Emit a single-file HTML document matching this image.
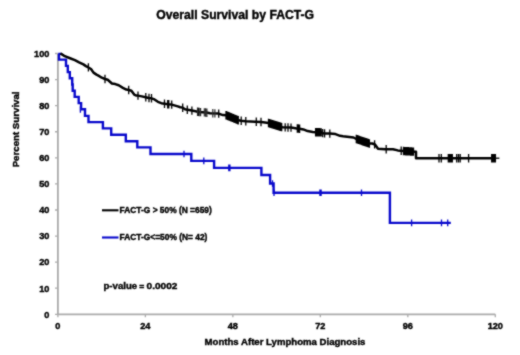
<!DOCTYPE html>
<html><head><meta charset="utf-8"><style>
html,body{margin:0;padding:0;background:#fff;width:520px;height:355px;overflow:hidden}
svg{display:block;will-change:transform}
text{font-family:"Liberation Sans",sans-serif;font-weight:bold;fill:#000;stroke:#000;stroke-width:0.4px}
</style></head><body>
<svg width="520" height="355" viewBox="0 0 520 355">
<defs><filter id="b" color-interpolation-filters="sRGB" filterUnits="userSpaceOnUse" x="0" y="0" width="520" height="355"><feConvolveMatrix order="3" kernelMatrix="1 2 1 2 12 2 1 2 1" divisor="24" edgeMode="duplicate"/></filter></defs>
<g filter="url(#b)">
<rect width="520" height="355" fill="#fff"/>
<text x="235.2" y="19.4" text-anchor="middle" font-size="12.2">Overall Survival by FACT-G</text>
<text transform="translate(19,129.4) rotate(-90)" text-anchor="middle" font-size="9.7">Percent Survival</text>
<text x="285" y="345" text-anchor="middle" font-size="9.6">Months After Lymphoma Diagnosis</text>
<g font-size="9.2"><text x="49.4" y="317.60" text-anchor="end">0</text><text x="49.4" y="291.52" text-anchor="end">10</text><text x="49.4" y="265.44" text-anchor="end">20</text><text x="49.4" y="239.36" text-anchor="end">30</text><text x="49.4" y="213.28" text-anchor="end">40</text><text x="49.4" y="187.20" text-anchor="end">50</text><text x="49.4" y="161.12" text-anchor="end">60</text><text x="49.4" y="135.04" text-anchor="end">70</text><text x="49.4" y="108.96" text-anchor="end">80</text><text x="49.4" y="82.88" text-anchor="end">90</text><text x="49.4" y="56.80" text-anchor="end">100</text><text x="57.90" y="329.2" text-anchor="middle">0</text><text x="145.38" y="329.2" text-anchor="middle">24</text><text x="232.86" y="329.2" text-anchor="middle">48</text><text x="320.34" y="329.2" text-anchor="middle">72</text><text x="407.82" y="329.2" text-anchor="middle">96</text><text x="495.30" y="329.2" text-anchor="middle">120</text></g>
<path d="M57.9,53.5V314.3H495.3" fill="none" stroke="#aaa" stroke-width="1.8"/>
<path d="M55,314.30H57.9M55,288.22H57.9M55,262.14H57.9M55,236.06H57.9M55,209.98H57.9M55,183.90H57.9M55,157.82H57.9M55,131.74H57.9M55,105.66H57.9M55,79.58H57.9M55,53.50H57.9M57.90,314.3V317.2M145.38,314.3V317.2M232.86,314.3V317.2M320.34,314.3V317.2M407.82,314.3V317.2M495.30,314.3V317.2" fill="none" stroke="#aaa" stroke-width="1.3"/>
<path d="M58.2,53.9 H61.6 M59,53.9 V59.6 H66 V65.9 H67.8 V72.1 H69.8 V78.3 H72.2 V84.5 H72.7 V90.7 H74.7 V96.9 H78.7 V103.1 H81.1 V109.3 H85 V115.9 H88.5 V122.1 H102.9 V128.4 H111.2 V134.8 H125.8 V141.2 H137.3 V147.4 H150.5 V154.0 H191.3 V160.9 H214.1 V167.9 H261.4 V175.0 H270.1 V183.5 H273.6 V192.7 H389.9 V222.9 H450.8" fill="none" stroke="#0808cc" stroke-width="2.4"/>
<path d="M80.4,106.2v6.6M184.0,150.7v6.6M203.8,157.6v6.6M228.8,164.6v6.6M229.9,164.6v6.6M272.5,180.2v6.6M274.0,189.4v6.6M319.9,189.4v6.6M321.1,189.4v6.6M361.5,189.4v6.6M411.6,219.6v6.6M441.5,219.6v6.6M447.7,219.6v6.6" fill="none" stroke="#0808cc" stroke-width="1.3"/>
<path d="M60.4,53.6 L61.2,53.9 L64.8,56.2 L70.7,58.5 L74.9,60.1 L79.1,62.3 L83.4,64.4 L85.9,66.1 L88.0,67.2 L91.0,69.0 L93.5,72.6 L96.5,74.6 L98.4,75.6 L101.8,77.7 L105.0,79.0 L107.7,79.8 L111.9,83.5 L115.3,84.1 L118.7,85.3 L122.9,87.9 L126.3,89.6 L128.7,90.0 L131.4,90.8 L134.2,94.6 L135.9,95.5 L138.0,95.6 L141.8,96.4 L145.6,97.3 L148.8,98.0 L151.6,98.3 L154.5,99.4 L157.9,101.8 L161.3,103.2 L164.7,103.7 L168.0,104.2 L171.8,104.6 L175.2,105.6 L177.8,106.4 L180.3,107.3 L182.4,107.5 L185.0,109.3 L187.5,109.8 L192.0,110.6 L195.5,111.3 L198.5,111.9 L206.5,112.6 L210.0,113.2 L218.7,113.6 L222.9,115.1 L226.3,115.3 L238.5,120.3 L241.0,120.8 L245.8,121.2 L255.0,121.7 L261.3,122.0 L265.0,122.5 L268.4,123.0 L282.3,127.3 L291.2,127.6 L296.7,128.4 L299.7,128.7 L303.4,129.4 L307.6,131.1 L312.7,132.0 L315.6,132.2 L321.5,132.4 L323.0,133.3 L325.4,133.5 L330.0,133.6 L335.5,134.1 L340.0,135.8 L343.0,136.3 L353.5,137.5 L356.3,139.0 L369.4,143.5 L372.3,143.5 L375.0,144.5 L378.0,148.7 L385.0,149.2 L393.0,149.2 L397.7,150.4 L403.5,151.0 L416.0,151.8 L416.0,158.2 L495.4,158.2" fill="none" stroke="#000" stroke-width="2.5" stroke-linejoin="round"/>
<path d="M495.4,158.2H499.4" stroke="#000" stroke-width="1.3"/>
<path d="M88.4,63.2v8.4M105.0,74.8v8.4M128.7,85.8v8.4M138.0,91.4v8.4M145.8,93.1v8.4M149.0,93.8v8.4M151.5,94.1v8.4M164.5,99.5v8.4M167.7,100.0v8.4M168.8,100.1v8.4M171.7,100.4v8.4M182.7,103.5v8.4M187.3,105.6v8.4M191.9,106.4v8.4M198.4,107.7v8.4M218.7,109.4v8.4M226.0,111.1v8.4M227.5,111.6v8.4M229.0,112.2v8.4M230.5,112.8v8.4M232.0,113.4v8.4M233.5,114.1v8.4M235.0,114.7v8.4M237.7,115.8v8.4M241.2,116.6v8.4M245.8,117.0v8.4M256.3,117.6v8.4M261.0,117.8v8.4M268.5,118.8v8.4M270.0,119.3v8.4M271.5,119.8v8.4M273.0,120.2v8.4M274.5,120.7v8.4M276.0,121.2v8.4M277.5,121.6v8.4M279.0,122.1v8.4M280.5,122.5v8.4M281.7,122.9v8.4M285.2,123.2v8.4M288.0,123.3v8.4M291.0,123.4v8.4M297.3,124.3v8.4M298.5,124.4v8.4M299.6,124.5v8.4M322.7,128.9v8.4M324.6,129.2v8.4M329.8,129.4v8.4M356.3,134.8v8.4M357.5,135.2v8.4M359.0,135.7v8.4M360.5,136.2v8.4M362.0,136.8v8.4M363.5,137.3v8.4M365.0,137.8v8.4M366.5,138.3v8.4M368.0,138.8v8.4M369.4,139.3v8.4M374.6,140.2v8.4M386.2,145.0v8.4M401.2,146.6v8.4M403.5,146.8v8.4M405.0,146.9v8.4M406.5,147.0v8.4M408.0,147.1v8.4M409.5,147.2v8.4M411.0,147.3v8.4M412.5,147.4v8.4M413.5,147.4v8.4M439.0,154.0v8.4M441.3,154.0v8.4M448.3,154.0v8.4M449.5,154.0v8.4M451.0,154.0v8.4M452.3,154.0v8.4M456.7,154.0v8.4M458.5,154.0v8.4M460.2,154.0v8.4M468.6,154.0v8.4M491.7,154.0v8.4M493.0,154.0v8.4M494.2,154.0v8.4M495.4,154.0v8.4M226.3,111.1v8.4M227.1,111.4v8.4M227.9,111.8v8.4M228.7,112.1v8.4M229.5,112.4v8.4M230.3,112.7v8.4M231.1,113.1v8.4M231.9,113.4v8.4M232.7,113.7v8.4M233.5,114.1v8.4M234.3,114.4v8.4M235.1,114.7v8.4M235.9,115.0v8.4M236.7,115.4v8.4M237.5,115.7v8.4M238.3,116.0v8.4M268.5,118.8v8.4M269.3,119.1v8.4M270.1,119.3v8.4M270.9,119.6v8.4M271.7,119.8v8.4M272.5,120.1v8.4M273.3,120.3v8.4M274.1,120.6v8.4M274.9,120.8v8.4M275.7,121.1v8.4M276.5,121.3v8.4M277.3,121.6v8.4M278.1,121.8v8.4M278.9,122.0v8.4M279.7,122.3v8.4M280.5,122.5v8.4M281.3,122.8v8.4M297.3,124.3v8.4M298.1,124.3v8.4M298.9,124.4v8.4M315.6,128.0v8.4M316.4,128.0v8.4M317.2,128.1v8.4M318.0,128.1v8.4M318.8,128.1v8.4M319.6,128.1v8.4M320.4,128.2v8.4M321.2,128.2v8.4M356.3,134.8v8.4M357.1,135.1v8.4M357.9,135.3v8.4M358.7,135.6v8.4M359.5,135.9v8.4M360.3,136.2v8.4M361.1,136.4v8.4M361.9,136.7v8.4M362.7,137.0v8.4M363.5,137.3v8.4M364.3,137.5v8.4M365.1,137.8v8.4M365.9,138.1v8.4M366.7,138.4v8.4M367.5,138.6v8.4M368.3,138.9v8.4M369.1,139.2v8.4M403.5,146.8v8.4M404.3,146.9v8.4M405.1,146.9v8.4M405.9,147.0v8.4M406.7,147.0v8.4M407.5,147.1v8.4M408.3,147.1v8.4M409.1,147.2v8.4M409.9,147.2v8.4M410.7,147.3v8.4M411.5,147.3v8.4M412.3,147.4v8.4M413.1,147.4v8.4M448.3,154.0v8.4M449.1,154.0v8.4M449.9,154.0v8.4M450.7,154.0v8.4M451.5,154.0v8.4M452.3,154.0v8.4M491.7,154.0v8.4M492.5,154.0v8.4M493.3,154.0v8.4M494.1,154.0v8.4M494.9,154.0v8.4" fill="none" stroke="#000" stroke-width="1.3"/>
<path d="M197.5,107.5v8.4M199.2,107.8v8.4M200.6,107.9v8.4M204.3,108.2v8.4M205.6,108.3v8.4M206.9,108.5v8.4M212.8,109.1v8.4M214.9,109.2v8.4" fill="none" stroke="#2a2a2a" stroke-width="1.2"/>
<path d="M102,210.3H118.5" stroke="#000" stroke-width="2.1"/>
<path d="M102,237.5H118.5" stroke="#0808cc" stroke-width="2.1"/>
<g font-size="8.4">
<text x="119.6" y="212.7">FACT-G &gt; 50% (N =659)</text>
<text x="119.6" y="239.8">FACT-G&lt;=50% (N= 42)</text>
</g>
<g font-size="9.9"><text x="103.5" y="288.9" textLength="33.6" lengthAdjust="spacingAndGlyphs">p-value</text><text x="141.75" y="289.9" text-anchor="middle" font-size="8.6">=</text><text x="146.6" y="288.9" textLength="30.8" lengthAdjust="spacingAndGlyphs">0.0002</text></g>
</g>
</svg>
</body></html>
